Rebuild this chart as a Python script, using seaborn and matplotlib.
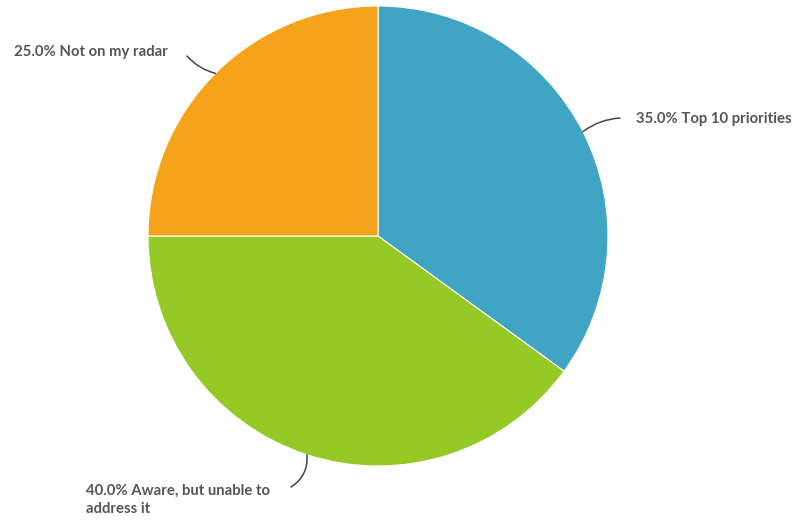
import numpy as np
import seaborn as sns
import matplotlib.pyplot as plt

labels = ["Top 10 priorities", "Aware, but unable to\naddress it", "Not on my radar"]
shares = [35.0, 40.0, 25.0]
colors = ["#40a4c4", "#95c926", "#f5a31a"]

sns.set_theme(style="white")
plt.rcParams["font.family"] = ["Lato", "DejaVu Sans"]

W, H = 794, 521
fig = plt.figure(figsize=(W / 100, H / 100), dpi=100)
cx, cy, r = 378, 236, 230
ax = fig.add_axes([(cx - r) / W, (H - cy - r) / H, 2 * r / W, 2 * r / H])

wedges, _ = ax.pie(shares, colors=colors, startangle=90, counterclock=False,
                   radius=1, wedgeprops=dict(edgecolor="white", linewidth=0.8))
ax.set_xlim(-1, 1)
ax.set_ylim(-1, 1)
ax.axis("off")

# label placement in figure pixels (from top-left): line end, text anchor, alignment
label_pos = [
    ((620, 118), (636, 119), "left"),
    ((291, 487), (86, 500), "left"),
    ((187, 56), (14, 52), "left"),
]
rads = [0.15, 0.3, 0.15]

for w, lab, val, (lend, tpos, ha), rad in zip(wedges, labels, shares, label_pos, rads):
    ang = np.deg2rad((w.theta1 + w.theta2) / 2)
    px, py = np.cos(ang), np.sin(ang)
    ax.annotate("", xy=(px, py), xycoords="data",
                xytext=(lend[0], H - lend[1]), textcoords="figure pixels",
                arrowprops=dict(arrowstyle="-", color="#444444", lw=1.1,
                                shrinkA=0, shrinkB=0,
                                connectionstyle=f"arc3,rad={rad}"),
                annotation_clip=False)
    fig.text(tpos[0] / W, 1 - tpos[1] / H, f"{val:.1f}% {lab}", ha=ha, va="center",
             fontsize=10.7, fontweight="bold", color="#555555", linespacing=1.45)

fig.savefig("out.png", dpi=100)
